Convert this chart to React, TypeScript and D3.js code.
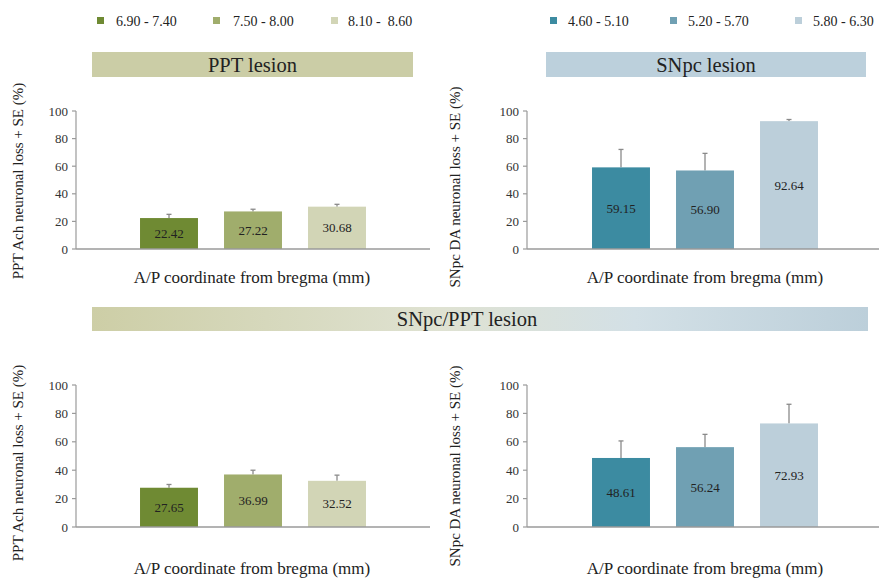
import React from "react";
import * as d3 from "d3";

// ---- data ----
const pptCategories = ["6.90 - 7.40", "7.50 - 8.00", "8.10 -  8.60"];
const snpcCategories = ["4.60 - 5.10", "5.20 - 5.70", "5.80 - 6.30"];
const pptColors = ["#6f8a33", "#a0ad6c", "#d2d5b6"];
const snpcColors = ["#3c8ba1", "#70a0b3", "#bccfda"];

const pptLesionValues = [22.42, 27.22, 30.68];
const pptLesionSE = [2.7, 1.6, 1.7];
const snpcLesionValues = [59.15, 56.9, 92.64];
const snpcLesionSE = [13.0, 12.4, 1.2];
const comboPptValues = [27.65, 36.99, 32.52];
const comboPptSE = [2.3, 3.0, 4.0];
const comboSnpcValues = [48.61, 56.24, 72.93];
const comboSnpcSE = [12.0, 9.0, 13.5];

const yTicks = [0, 20, 40, 60, 80, 100];
const xTitle = "A/P coordinate from bregma (mm)";
const pptYTitle = "PPT Ach neuronal loss + SE (%)";
const snpcYTitle = "SNpc DA neuronal loss + SE (%)";

const FONT = "Liberation Serif";

type PanelProps = {
  axisX: number;
  axisEnd: number;
  yTop: number;
  yBottom: number;
  bandStart: number;
  bandEnd: number;
  values: number[];
  se: number[];
  colors: string[];
  cats: string[];
  yTitle: string;
  yTitleX: number;
  yTitleY: number;
  xTitleX: number;
  xTitleY: number;
};

function Panel(p: PanelProps) {
  const y = d3.scaleLinear().domain([0, 100]).range([p.yBottom, p.yTop]);
  const x = d3
    .scaleBand<string>()
    .domain(p.cats)
    .range([p.bandStart, p.bandEnd])
    .paddingInner(0.31)
    .paddingOuter(0.155);
  const bw = x.bandwidth();
  return (
    <g>
      <line x1={p.axisX} x2={p.axisX} y1={y(0)} y2={y(100)} stroke="#9a9a9a" strokeWidth={1.2} />
      {yTicks.map((t) => (
        <g key={t}>
          <line x1={p.axisX - 4} x2={p.axisX} y1={y(t)} y2={y(t)} stroke="#9a9a9a" strokeWidth={1.2} />
          <text
            x={p.axisX - 8}
            y={y(t)}
            textAnchor="end"
            dominantBaseline="central"
            fontSize={13}
            fontFamily={FONT}
            fill="#333"
          >
            {t}
          </text>
        </g>
      ))}
      {p.cats.map((c, i) => {
        const v = p.values[i];
        const cx = (x(c) as number) + bw / 2;
        const top = y(v + p.se[i]);
        return (
          <g key={c}>
            <line x1={cx} x2={cx} y1={y(v)} y2={top} stroke="#8a8a8a" strokeWidth={1.3} />
            <line x1={cx - 2.5} x2={cx + 2.5} y1={top} y2={top} stroke="#8a8a8a" strokeWidth={1.3} />
            <rect x={x(c)} y={y(v)} width={bw} height={y(0) - y(v)} fill={p.colors[i]} />
            <text
              x={cx}
              y={(y(v) + y(0)) / 2}
              textAnchor="middle"
              dominantBaseline="central"
              fontSize={13}
              fontFamily={FONT}
              fill="#222"
            >
              {v.toFixed(2)}
            </text>
          </g>
        );
      })}
      <line x1={p.axisX} x2={p.axisEnd} y1={y(0)} y2={y(0)} stroke="#9a9a9a" strokeWidth={1.4} />
      <text
        transform={`translate(${p.yTitleX},${p.yTitleY}) rotate(-90)`}
        textAnchor="middle"
        dominantBaseline="central"
        fontSize={15}
        fontFamily={FONT}
        fill="#222"
      >
        {p.yTitle}
      </text>
      <text
        x={p.xTitleX}
        y={p.xTitleY}
        textAnchor="middle"
        dominantBaseline="central"
        fontSize={17}
        fontFamily={FONT}
        fill="#222"
      >
        {xTitle}
      </text>
    </g>
  );
}

function Legend({ cats, colors, squareX, textX }: { cats: string[]; colors: string[]; squareX: number[]; textX: number[] }) {
  return (
    <g>
      {cats.map((c, i) => (
        <g key={c}>
          <rect x={squareX[i]} y={17} width={7} height={7} fill={colors[i]} />
          <text
            x={textX[i]}
            y={21}
            dominantBaseline="central"
            fontSize={14}
            fontFamily={FONT}
            fill="#222"
            style={{ whiteSpace: "pre" }}
          >
            {c}
          </text>
        </g>
      ))}
    </g>
  );
}

export default function App() {
  return (
    <svg
      width={879}
      height={583}
      style={{ position: "absolute", left: 0, top: 0, background: "#fff" }}
    >
      <defs>
        <linearGradient id="comboGrad" x1="0" x2="1" y1="0" y2="0">
          <stop offset="0%" stopColor="#cdcea6" />
          <stop offset="45%" stopColor="#dfe2d2" />
          <stop offset="70%" stopColor="#d3e0e6" />
          <stop offset="100%" stopColor="#bccfda" />
        </linearGradient>
      </defs>

      <Legend cats={pptCategories} colors={pptColors} squareX={[97, 213, 331]} textX={[116, 233, 348]} />
      <Legend cats={snpcCategories} colors={snpcColors} squareX={[550, 670, 795]} textX={[568, 688, 813]} />

      <rect x={92} y={52} width={321} height={25} fill="#cbcda6" />
      <text x={252.5} y={64.5} textAnchor="middle" dominantBaseline="central" fontSize={20.5} fontFamily={FONT} fill="#222">
        PPT lesion
      </text>
      <rect x={546} y={52} width={320} height={25} fill="#bcd0dc" />
      <text x={706} y={64.5} textAnchor="middle" dominantBaseline="central" fontSize={20.5} fontFamily={FONT} fill="#222">
        SNpc lesion
      </text>

      <Panel
        axisX={76} axisEnd={430} yTop={111} yBottom={249} bandStart={127} bandEnd={379}
        values={pptLesionValues} se={pptLesionSE} colors={pptColors} cats={pptCategories}
        yTitle={pptYTitle} yTitleX={18} yTitleY={181} xTitleX={252} xTitleY={277}
      />
      <Panel
        axisX={527} axisEnd={879} yTop={111} yBottom={249} bandStart={579} bandEnd={831}
        values={snpcLesionValues} se={snpcLesionSE} colors={snpcColors} cats={snpcCategories}
        yTitle={snpcYTitle} yTitleX={455} yTitleY={187} xTitleX={705} xTitleY={277}
      />

      <rect x={92} y={307} width={776} height={24} fill="url(#comboGrad)" />
      <text x={467} y={319} textAnchor="middle" dominantBaseline="central" fontSize={20.5} fontFamily={FONT} fill="#222">
        SNpc/PPT lesion
      </text>

      <Panel
        axisX={76} axisEnd={430} yTop={385} yBottom={527} bandStart={127} bandEnd={379}
        values={comboPptValues} se={comboPptSE} colors={pptColors} cats={pptCategories}
        yTitle={pptYTitle} yTitleX={18} yTitleY={463} xTitleX={252} xTitleY={568}
      />
      <Panel
        axisX={527} axisEnd={879} yTop={385} yBottom={527} bandStart={579} bandEnd={831}
        values={comboSnpcValues} se={comboSnpcSE} colors={snpcColors} cats={snpcCategories}
        yTitle={snpcYTitle} yTitleX={455} yTitleY={466} xTitleX={705} xTitleY={568}
      />
    </svg>
  );
}
